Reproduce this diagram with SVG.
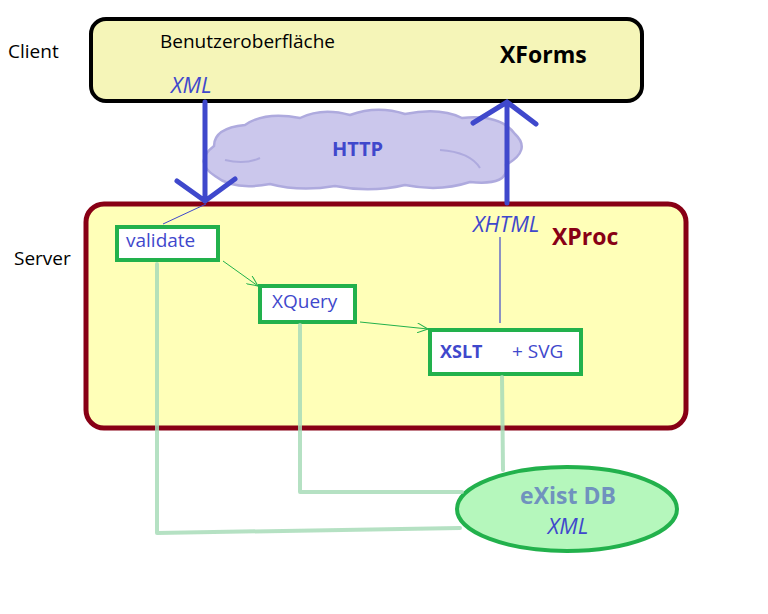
<svg xmlns="http://www.w3.org/2000/svg" width="768" height="614" viewBox="0 0 768 614">
<defs>
<style>
.t{font-family:"Open Sans","Noto Sans","DejaVu Sans",sans-serif;font-size:19px;fill:#000}
.b{fill:#3f48cc}
.i{font-style:italic;font-size:22px}
.bold{font-weight:bold}
.step{fill:#fff;stroke:#22b14c;stroke-width:4}
.db{fill:none;stroke:#a8dcb8;stroke-width:4;stroke-linecap:round;stroke-linejoin:round;opacity:0.85}
.big{fill:none;stroke:#3f48cc;stroke-width:5;stroke-linecap:round}
.flow{fill:none;stroke:#22b14c;stroke-width:1}
</style>
<marker id="ga" viewBox="0 0 12 10" refX="11" refY="5" markerWidth="12" markerHeight="10" markerUnits="userSpaceOnUse" orient="auto">
<path d="M0 0 L11 5 L0 10" fill="none" stroke="#22b14c" stroke-width="1"/>
</marker>
</defs>
<rect width="768" height="614" fill="#fff"/>
<g id="labels">
<text class="t" x="8" y="58">Client</text>
<text class="t" x="14" y="265">Server</text>
</g>
<g id="client">
<rect x="91" y="19" width="551" height="82" rx="15" fill="#f5f5b8" stroke="#000" stroke-width="4"/>
<text class="t" x="160" y="48">Benutzeroberfläche</text>
<text class="t bold" x="500" y="63" style="font-size:23px">XForms</text>
<text class="t b i" x="171" y="93">XML</text>
</g>
<g id="server">
<rect x="86" y="204" width="600" height="224" rx="18" fill="#ffffb8" stroke="#880015" stroke-width="5"/>
<text class="t bold" x="552" y="245" style="font-size:23px;fill:#880015">XProc</text>
<text class="t b i" x="473" y="232">XHTML</text>
</g>
<g id="cloud">
<path d="M215 176 Q193 162 214 146 Q214 128 245 125 Q265 111 300 118 Q322 107 350 115 Q377 105 405 114 Q440 107 462 118 Q500 114 515 134 Q532 150 506 165 Q510 186 470 182 Q440 192 405 185 Q370 193 335 186 Q300 192 270 184 Q234 191 215 176 Z" fill="#cbc7ec" stroke="#aeaade" stroke-width="2.5"/>
<path d="M225 160 Q245 165 260 158 M440 150 Q470 152 480 168" fill="none" stroke="#aeaade" stroke-width="2"/>
<text class="t b bold" x="332" y="156" style="font-size:20px">HTTP</text>
</g>
<g id="validate">
<rect class="step" x="117" y="227" width="101" height="33"/>
<text class="t b" x="126" y="247">validate</text>
</g>
<g id="xquery">
<rect class="step" x="260" y="286" width="95" height="36"/>
<text class="t b" x="272" y="308">XQuery</text>
</g>
<g id="xslt">
<rect class="step" x="430" y="330" width="151" height="44"/>
<text class="t b bold" x="440" y="358" style="font-size:18px">XSLT</text>
<text class="t b" x="512" y="358">+ SVG</text>
</g>
<g id="existdb">
<ellipse cx="567" cy="509" rx="110" ry="42" fill="#b5f7bc" stroke="#22b14c" stroke-width="4"/>
<text class="t bold" x="568" y="504" text-anchor="middle" style="font-size:23px;fill:#7092be">eXist DB</text>
<text class="t b i" x="568" y="534" text-anchor="middle">XML</text>
</g>
<g id="connectors">
<path class="db" d="M157 264 L157 533 L460 528"/>
<path class="db" d="M300 325 L300 492 L462 492"/>
<path class="db" d="M502 377 L503 470"/>
<path class="big" d="M205 102 L205 201 M177 181 L205 201 L235 179"/>
<path class="big" d="M507 203 L507 102 M473 123 L507 102 L536 124"/>
<path d="M163 224 L206 204" stroke="#3f48cc" stroke-width="1" fill="none"/>
<path d="M500 237 L500 323" stroke="#3f48cc" stroke-width="1.2" fill="none"/>
<path class="flow" d="M223 261 L258 286" marker-end="url(#ga)"/>
<path class="flow" d="M360 322 L428 329" marker-end="url(#ga)"/>
</g>
</svg>
